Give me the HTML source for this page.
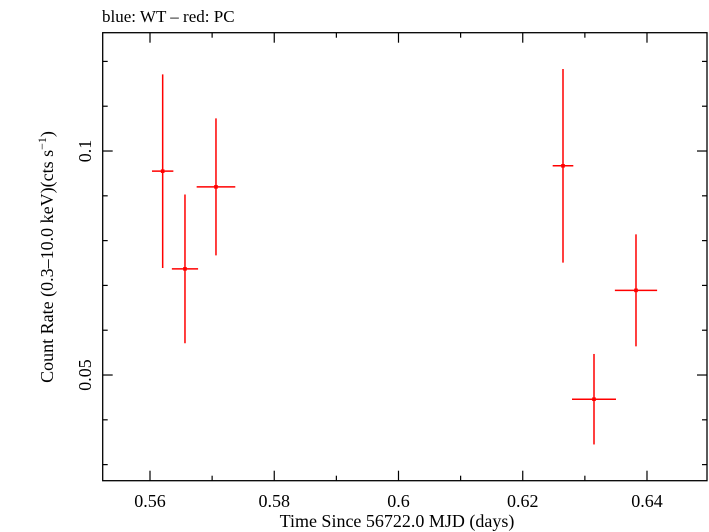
<!DOCTYPE html>
<html><head><meta charset="utf-8"><style>
html,body{margin:0;padding:0;background:#fff;}
svg{display:block;font-family:"Liberation Serif",serif;}
</style></head><body>
<svg id="chart" width="709" height="532" viewBox="0 0 709 532" xmlns="http://www.w3.org/2000/svg">
<text x="102" y="22" font-size="17">blue: WT – red: PC</text>
<rect x="102.7" y="32.7" width="604.3" height="448" fill="none" stroke="#000" stroke-width="1.3"/>
<g id="axes"></g>
<g id="series"></g>
<text x="397" y="527" font-size="18" text-anchor="middle">Time Since 56722.0 MJD (days)</text>
<text transform="translate(53,257) rotate(-90)" font-size="18" text-anchor="middle">Count Rate (0.3–10.0 keV)(cts s<tspan font-size="12" dy="-7">−1</tspan><tspan dy="7">)</tspan></text>
</svg>
<script>
const times = [0.56204, 0.56563, 0.57062, 0.62648, 0.63147, 0.63823];
const timeErr = [0.00172, 0.00211, 0.00311, 0.00166, 0.00354, 0.0034];
const rates = [0.0955, 0.0737, 0.0920, 0.0967, 0.0446, 0.0689];
const rateErr = [0.0216, 0.0166, 0.0153, 0.0216, 0.0101, 0.0125];
const xTicks = [0.56, 0.58, 0.6, 0.62, 0.64];
const xTickLabels = ["0.56", "0.58", "0.6", "0.62", "0.64"];
const yTicks = [0.05, 0.1];
const yTickLabels = ["0.05", "0.1"];

const L = 102.7, R = 707, T = 32.7, B = 480.7;
const X0 = 0.552386, X1 = 0.64966, Y0 = 0.02641, Y1 = 0.12641;
const xs = v => L + (v - X0) / (X1 - X0) * (R - L);
const ys = v => B - (v - Y0) / (Y1 - Y0) * (B - T);
const NS = "http://www.w3.org/2000/svg";
function mk(tag, attrs, parent) {
  const e = document.createElementNS(NS, tag);
  for (const k in attrs) e.setAttribute(k, attrs[k]);
  parent.appendChild(e);
  return e;
}
const axes = document.getElementById('axes');
const series = document.getElementById('series');
// x ticks (major 0.02, minor 0.01)
for (let i = 0; i <= 10; i++) {
  const v = 0.55 + i * 0.01;
  if (v < X0 || v > X1) continue;
  const major = xTicks.some(t => Math.abs(t - v) < 1e-9);
  const len = major ? 10 : 5;
  const x = xs(v);
  const t1 = mk('line', {x1: x, x2: x, y1: B, y2: B - len, stroke: '#000', 'stroke-width': 1.2}, axes);
  
  
  const t2 = mk('line', {x1: x, x2: x, y1: T, y2: T + len, stroke: '#000', 'stroke-width': 1.2}, axes);
  
  
}
xTicks.forEach((v, i) => {
  const t = mk('text', {x: xs(v), y: 507, 'font-size': 18, 'text-anchor': 'middle'}, axes);
  t.textContent = xTickLabels[i];
  
  
});
// y ticks (minor every 0.01)
for (let i = 3; i <= 12; i++) {
  const v = i * 0.01;
  const major = yTicks.some(t => Math.abs(t - v) < 1e-9);
  const len = major ? 10 : 5;
  const y = ys(v);
  const t1 = mk('line', {x1: L, x2: L + len, y1: y, y2: y, stroke: '#000', 'stroke-width': 1.2}, axes);
  
  
  const t2 = mk('line', {x1: R, x2: R - len, y1: y, y2: y, stroke: '#000', 'stroke-width': 1.2}, axes);
  
  
}
yTicks.forEach((v, i) => {
  const t = mk('text', {transform: `translate(91,${ys(v)}) rotate(-90)`, 'font-size': 18, 'text-anchor': 'middle'}, axes);
  t.textContent = yTickLabels[i];
  
  
});
// data points
times.forEach((t, i) => {
  const g = mk('g', {}, series);
  
  
  const cx = xs(t), cy = ys(rates[i]);
  mk('line', {x1: xs(t - timeErr[i]), x2: xs(t + timeErr[i]), y1: cy, y2: cy, stroke: '#f00', 'stroke-width': 1.5}, g);
  mk('line', {x1: cx, x2: cx, y1: ys(rates[i] + rateErr[i]), y2: ys(rates[i] - rateErr[i]), stroke: '#f00', 'stroke-width': 1.5}, g);
  mk('rect', {x: cx - 1.8, y: cy - 1.8, width: 3.6, height: 3.6, fill: '#f00'}, g);
});
</script>
</body></html>
